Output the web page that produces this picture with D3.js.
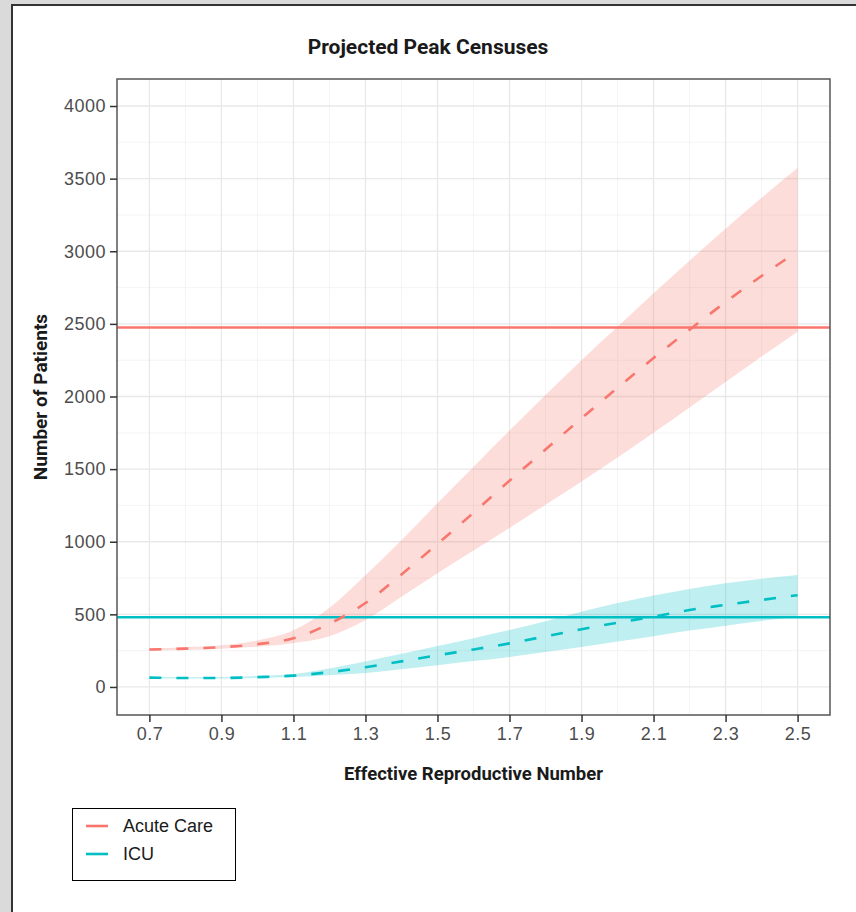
<!DOCTYPE html>
<html>
<head>
<meta charset="utf-8">
<script src="https://cdn.jsdelivr.net/npm/d3@7"></script>
<style>
    html, body { margin: 0; padding: 0; background: #dadada; }
    svg { display: block; }
</style>
</head>
<body>
<svg id="chart" width="856" height="912"></svg>
<script>
// effective reproductive number
const rt = [0.7, 0.8, 0.9, 1.0, 1.1, 1.2, 1.3, 1.4, 1.5, 1.6, 1.7, 1.8, 1.9, 2.0, 2.1, 2.2, 2.3, 2.4, 2.5];

// acute care peak census (median, lower, upper)
const acuteMid = [258, 264, 274, 295, 335, 435, 578, 775, 985, 1200, 1420, 1635, 1850, 2060, 2265, 2460, 2650, 2830, 3000];
const acuteLo = [250, 256, 264, 277, 303, 350, 461, 622, 783, 940, 1095, 1255, 1415, 1580, 1750, 1925, 2100, 2275, 2446];
const acuteHi = [266, 274, 287, 320, 390, 545, 770, 1010, 1265, 1515, 1765, 2010, 2250, 2480, 2710, 2935, 3155, 3368, 3573];

// icu peak census (median, lower, upper)
const icuMid = [64, 62, 62, 68, 78, 102, 136, 176, 218, 258, 300, 348, 397, 443, 484, 530, 565, 599, 632];
const icuLo = [60, 58, 58, 62, 68, 80, 96, 122, 150, 178, 207, 240, 275, 313, 350, 388, 422, 455, 484];
const icuHi = [68, 67, 68, 76, 90, 128, 176, 228, 282, 336, 392, 452, 518, 578, 630, 675, 714, 745, 771];

// bed capacity lines
const capacity = [2475, 480];

const seriesNames = ['Acute Care', 'ICU'];
const colors = ['#F8766D', '#00BFC4'];

const xTicks = [0.7, 0.9, 1.1, 1.3, 1.5, 1.7, 1.9, 2.1, 2.3, 2.5];
const xMinor = [0.8, 1.0, 1.2, 1.4, 1.6, 1.8, 2.0, 2.2, 2.4];
const yTicks = [0, 500, 1000, 1500, 2000, 2500, 3000, 3500, 4000];
const yMinor = [250, 750, 1250, 1750, 2250, 2750, 3250, 3750];

const svg = d3.select('#chart');

// white page with a dark edge on top and left
svg.append('rect')
    .attr('x', 12).attr('y', 5)
    .attr('width', 844).attr('height', 907)
    .attr('fill', '#fff');
svg.append('path')
    .attr('d', 'M12,912V5H856')
    .attr('fill', 'none')
    .attr('stroke', '#333')
    .attr('stroke-width', 2);

const panel = { left: 117, right: 830, top: 79, bottom: 715 };

const x = d3.scaleLinear().domain([0.61, 2.59]).range([panel.left, panel.right]);
const y = d3.scaleLinear().domain([-193, 4186]).range([panel.bottom, panel.top]);

const grid = svg.append('g').attr('class', 'grid');

grid.selectAll('.xminor').data(xMinor).join('line')
    .attr('x1', (d) => x(d)).attr('x2', (d) => x(d))
    .attr('y1', panel.top).attr('y2', panel.bottom)
    .attr('stroke', '#f1f1f1').attr('stroke-width', 0.8);
grid.selectAll('.yminor').data(yMinor).join('line')
    .attr('x1', panel.left).attr('x2', panel.right)
    .attr('y1', (d) => y(d)).attr('y2', (d) => y(d))
    .attr('stroke', '#f1f1f1').attr('stroke-width', 0.8);
grid.selectAll('.xmajor').data(xTicks).join('line')
    .attr('x1', (d) => x(d)).attr('x2', (d) => x(d))
    .attr('y1', panel.top).attr('y2', panel.bottom)
    .attr('stroke', '#e8e8e8').attr('stroke-width', 1.3);
grid.selectAll('.ymajor').data(yTicks).join('line')
    .attr('x1', panel.left).attr('x2', panel.right)
    .attr('y1', (d) => y(d)).attr('y2', (d) => y(d))
    .attr('stroke', '#e8e8e8').attr('stroke-width', 1.3);

const series = [
    { name: seriesNames[0], color: colors[0], mid: acuteMid, lo: acuteLo, hi: acuteHi },
    { name: seriesNames[1], color: colors[1], mid: icuMid, lo: icuLo, hi: icuHi }
];

const area = d3.area()
    .x((d) => x(d.rt))
    .y0((d) => y(d.lo))
    .y1((d) => y(d.hi))
    .curve(d3.curveMonotoneX);

const line = d3.line()
    .x((d) => x(d.rt))
    .y((d) => y(d.v))
    .curve(d3.curveMonotoneX);

// ribbons
svg.append('g').selectAll('path')
    .data(series)
    .join('path')
    .attr('d', (s) => area(rt.map((r, i) => ({ rt: r, lo: s.lo[i], hi: s.hi[i] }))))
    .attr('fill', (s) => s.color)
    .attr('fill-opacity', 0.25);

// capacity lines
svg.append('g').selectAll('line')
    .data(capacity)
    .join('line')
    .attr('x1', panel.left).attr('x2', panel.right)
    .attr('y1', (d) => y(d)).attr('y2', (d) => y(d))
    .attr('stroke', (d, i) => colors[i])
    .attr('stroke-width', 2.6);

// projected medians
svg.append('g').selectAll('path')
    .data(series)
    .join('path')
    .attr('d', (s) => line(rt.map((r, i) => ({ rt: r, v: s.mid[i] }))))
    .attr('fill', 'none')
    .attr('stroke', (s) => s.color)
    .attr('stroke-width', 2.6)
    .attr('stroke-dasharray', '12,15');

// panel border
svg.append('rect')
    .attr('x', panel.left).attr('y', panel.top)
    .attr('width', panel.right - panel.left)
    .attr('height', panel.bottom - panel.top)
    .attr('fill', 'none')
    .attr('stroke', '#555')
    .attr('stroke-width', 1.5);

// axes
const tickFont = (g) => g.selectAll('text')
    .attr('fill', '#4d4d4d')
    .style('font-family', '"Liberation Sans", Arial, sans-serif')
    .style('font-size', '18px')
    .style('letter-spacing', '0.5px');

const xAxis = svg.append('g')
    .attr('transform', `translate(0,${panel.bottom})`)
    .call(d3.axisBottom(x).tickValues(xTicks).tickFormat(d3.format('.1f')).tickSize(7).tickPadding(5))
    .call(tickFont);
xAxis.select('.domain').remove();
xAxis.selectAll('line').attr('stroke', '#333').attr('stroke-width', 1.5);

const yAxis = svg.append('g')
    .attr('transform', `translate(${panel.left},0)`)
    .call(d3.axisLeft(y).tickValues(yTicks).tickFormat(d3.format('d')).tickSize(7).tickPadding(4))
    .call(tickFont);
yAxis.select('.domain').remove();
yAxis.selectAll('line').attr('stroke', '#333').attr('stroke-width', 1.5);

const boldFont = '"Roboto", "Liberation Sans", sans-serif';

svg.append('text')
    .attr('x', 428).attr('y', 54)
    .attr('text-anchor', 'middle')
    .style('font-family', boldFont)
    .style('font-weight', 'bold')
    .style('font-size', '21px')
    .attr('fill', '#1a1a1a')
    .text('Projected Peak Censuses');

svg.append('text')
    .attr('x', (panel.left + panel.right) / 2).attr('y', 780)
    .attr('text-anchor', 'middle')
    .style('font-family', boldFont)
    .style('font-weight', 'bold')
    .style('font-size', '18.5px')
    .attr('fill', '#1a1a1a')
    .text('Effective Reproductive Number');

svg.append('text')
    .attr('transform', `translate(47,${(panel.top + panel.bottom) / 2}) rotate(-90)`)
    .attr('text-anchor', 'middle')
    .style('font-family', boldFont)
    .style('font-weight', 'bold')
    .style('font-size', '19px')
    .attr('fill', '#1a1a1a')
    .text('Number of Patients');

// legend
const legend = svg.append('g').attr('transform', 'translate(72,808)');
legend.append('rect')
    .attr('x', 0.5).attr('y', 0.5)
    .attr('width', 163).attr('height', 72)
    .attr('fill', '#fff')
    .attr('stroke', '#000')
    .attr('stroke-width', 1);

const items = legend.selectAll('.item')
    .data(series)
    .join('g')
    .attr('class', 'item')
    .attr('transform', (d, i) => `translate(0,${18 + i * 28})`);
items.append('line')
    .attr('x1', 14).attr('x2', 36)
    .attr('stroke', (d) => d.color)
    .attr('stroke-width', 2.6);
items.append('text')
    .attr('x', 51).attr('dy', '0.35em')
    .style('font-family', '"Liberation Sans", Arial, sans-serif')
    .style('font-size', '18px')
    .attr('fill', '#1a1a1a')
    .text((d) => d.name);
</script>
</body>
</html>
